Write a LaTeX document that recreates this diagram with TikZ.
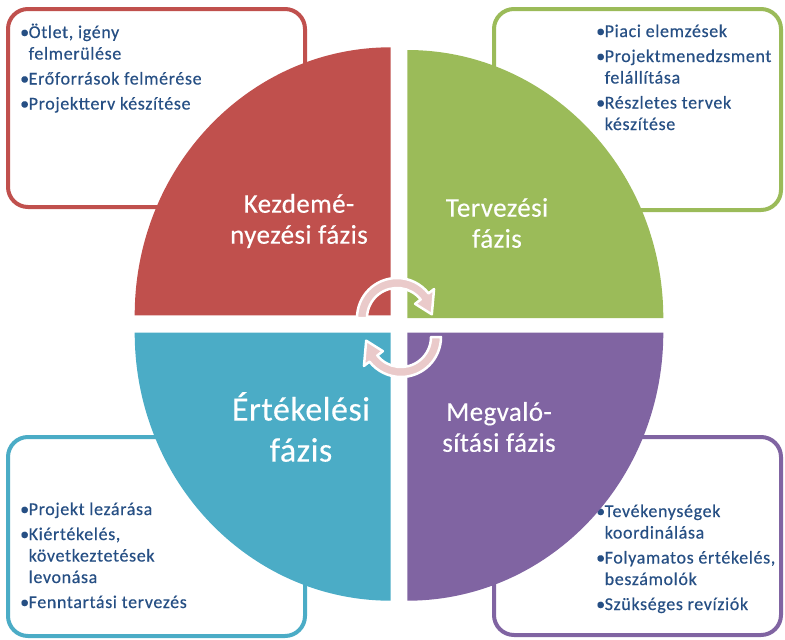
\documentclass[tikz,border=0pt]{standalone}
\usepackage{fontspec}
\setmainfont{Carlito}
\newfontface\itemfont{Carlito}[LetterSpace=3.5, FakeBold=0.35]
\newfontface\phasefont{Carlito}[LetterSpace=1.5, FakeBold=0.3]
\definecolor{cred}{HTML}{C0504D}
\definecolor{cgreen}{HTML}{9BBB59}
\definecolor{cblue}{HTML}{4BACC6}
\definecolor{cpurple}{HTML}{8064A2}
\definecolor{ctext}{HTML}{264F84}
\definecolor{carrow}{HTML}{EACACA}
\newcommand\bulletmark{\makebox[8.5pt][l]{•}}
\begin{document}
\begin{tikzpicture}[x=1pt,y=-1pt,
  infobox/.style={draw=#1, line width=4pt, rounded corners=20pt, fill=white},
  itemtext/.style={anchor=base west, inner sep=0pt, text=ctext, font=\itemfont\fontsize{18}{21.5}\selectfont},
  phase/.style={text=white, align=center, font=\phasefont\fontsize{27}{31}\selectfont},
  cyclearrow/.style={fill=carrow, draw=white, line width=2.5pt, line join=round}]

\useasboundingbox (0,0) rectangle (785,640);

% boxes
\node[infobox=cred, minimum width=297pt, minimum height=198pt] (boxA) at (156.5,108) {};
\node[infobox=cgreen, minimum width=287pt, minimum height=201pt] (boxB) at (637.5,109.5) {};
\node[infobox=cblue, minimum width=297pt, minimum height=199pt] (boxC) at (156.5,536.5) {};
\node[infobox=cpurple, minimum width=287pt, minimum height=198pt] (boxD) at (637.5,536) {};

% box texts
\node[itemtext] (txtA) at (20,38) {\begin{tabular}[t]{@{}l@{}l@{}}
\bulletmark & Ötlet, igény\\ & felmerülése\\[3.5pt]
\bulletmark & Erőforrások felmérése\\[3.5pt]
\bulletmark & Projektterv készítése\end{tabular}};
\node[itemtext] (txtB) at (596,37) {\begin{tabular}[t]{@{}l@{}l@{}}
\bulletmark & Piaci elemzések\\[3.5pt]
\bulletmark & Projektmenedzsment\\ & felállítása\\[3.5pt]
\bulletmark & Részletes tervek\\ & készítése\end{tabular}};
\node[itemtext] (txtC) at (20,515) {\begin{tabular}[t]{@{}l@{}l@{}}
\bulletmark & Projekt lezárása\\[3.5pt]
\bulletmark & Kiértékelés,\\ & következtetések\\ & levonása\\[3.5pt]
\bulletmark & Fenntartási tervezés\end{tabular}};
\node[itemtext] (txtD) at (596,517) {\begin{tabular}[t]{@{}l@{}l@{}}
\bulletmark & Tevékenységek\\ & koordinálása\\[3.5pt]
\bulletmark & Folyamatos értékelés,\\ & beszámolók\\[3.5pt]
\bulletmark & Szükséges revíziók\end{tabular}};

% quadrants
\fill[cred] (390.7,315.3) -- (134.7,315.3) arc[start angle=180, end angle=270, x radius=256, y radius=268] -- cycle;
\fill[cgreen] (407.3,318) -- (407.3,50) arc[start angle=270, end angle=360, x radius=256, y radius=268] -- cycle;
\fill[cpurple] (407.3,332.7) -- (663.3,332.7) arc[start angle=0, end angle=90, x radius=256, y radius=268] -- cycle;
\fill[cblue] (390.7,332.7) -- (390.7,600.7) arc[start angle=90, end angle=180, x radius=256, y radius=268] -- cycle;

% cycle arrows
\begin{scope}[shift={(397,318)}]
\draw[cyclearrow] (180:40) arc[start angle=180, end angle=322, radius=40] -- (322:47) -- (354:35) -- (322:23) -- (322:30) arc[start angle=322, end angle=180, radius=30] -- cycle;
\end{scope}
\begin{scope}[shift={(401,337)}]
\draw[cyclearrow] (0:40) arc[start angle=0, end angle=142, radius=40] -- (142:47) -- (174:35) -- (142:23) -- (142:30) arc[start angle=142, end angle=0, radius=30] -- cycle;
\end{scope}

% phase labels
\node[phase] (kezd) at (299,221) {Kezdemé-\\nyezési fázis};
\node[phase] (terv) at (497,223) {Tervezési\\fázis};
\node[phase, font=\phasefont\fontsize{34}{41}\selectfont] (ert) at (301,427) {Értékelési\\fázis};
\node[phase] (megv) at (499,427) {Megvaló-\\sítási fázis};
\end{tikzpicture}
\end{document}
